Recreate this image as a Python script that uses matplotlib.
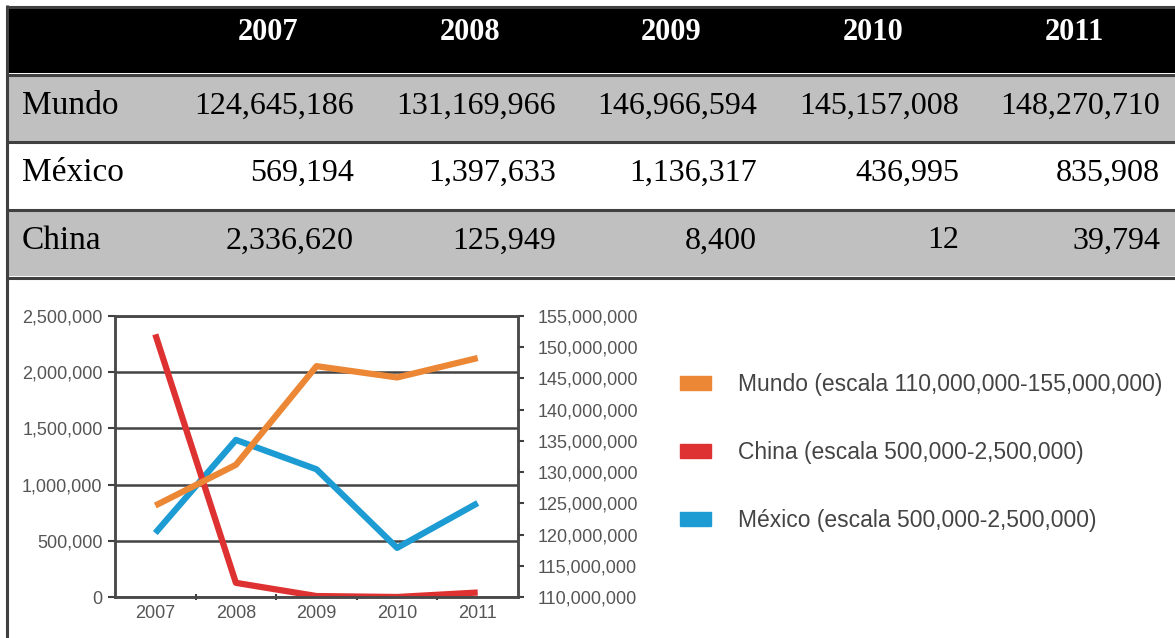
import matplotlib.pyplot as plt
from matplotlib.patches import Rectangle, Patch
from matplotlib.ticker import FuncFormatter, MultipleLocator, FixedLocator

years = ["2007", "2008", "2009", "2010", "2011"]
mundo = [124645186, 131169966, 146966594, 145157008, 148270710]
mexico = [569194, 1397633, 1136317, 436995, 835908]
china = [2336620, 125949, 8400, 12, 39794]

row_names = ["Mundo", "México", "China"]
row_values = [mundo, mexico, china]
row_fills = ["#c0c0c0", "white", "#c0c0c0"]

legend_labels = ["Mundo (escala 110,000,000-155,000,000)",
                 "China (escala 500,000-2,500,000)",
                 "México (escala 500,000-2,500,000)"]
c_mundo, c_china, c_mexico = "#ec8736", "#de3131", "#1d9bd3"

W, H = 1175, 638
fig = plt.figure(figsize=(W / 100, H / 100), dpi=100)

# --- table, drawn in pixel coordinates ---
tab = fig.add_axes([0, 0, 1, 1])
tab.set_xlim(0, W)
tab.set_ylim(H, 0)
tab.axis("off")

col_edges = [8, 168, 369, 571, 772, 974, 1175]
row_h = 65
head_top = 8
row_tops = [76, 143, 211]
line_c = "#404040"
serif = "Liberation Serif"

tab.add_patch(Rectangle((8, head_top), W - 8, row_h, color="black", lw=0))
for top, fill in zip(row_tops, row_fills):
    tab.add_patch(Rectangle((8, top), W - 8, row_h, color=fill, lw=0))

for y in [6.5, 74.5, 142, 210, 277.5]:
    tab.plot([6, W], [y, y], color=line_c, lw=2.2, solid_capstyle="butt")
tab.plot([7, 7], [5, H], color=line_c, lw=2.2, solid_capstyle="butt")

for i, yr in enumerate(years):
    cx = (col_edges[i + 1] + col_edges[i + 2]) / 2
    tab.text(cx, 33, yr, color="white", fontsize=22, fontweight="bold",
             family=serif, ha="center", va="center")

for name, vals, top in zip(row_names, row_values, row_tops):
    cy = top + 30
    tab.text(22, cy, name, fontsize=24, family=serif, ha="left", va="center")
    for i, v in enumerate(vals):
        tab.text(col_edges[i + 2] - 15, cy, f"{v:,}", fontsize=23,
                 family=serif, ha="right", va="center")

# --- chart with two y axes ---
sans = "Liberation Sans"
txt_c = "#555555"
ax_l, ax_r, ax_t, ax_b = 115, 518, 316, 597
ax = fig.add_axes([ax_l / W, (H - ax_b) / H, (ax_r - ax_l) / W, (ax_b - ax_t) / H])
ax2 = ax.twinx()

x = range(len(years))
ax.plot(x, mexico, color=c_mexico, lw=4.5, solid_capstyle="butt")
ax.plot(x, china, color=c_china, lw=4.5, solid_capstyle="butt")
ax2.plot(x, mundo, color=c_mundo, lw=4.5, solid_capstyle="butt")

ax.set_xlim(-0.5, len(years) - 0.5)
ax.set_ylim(0, 2500000)
ax2.set_ylim(110000000, 155000000)

ax.yaxis.set_major_locator(MultipleLocator(500000))
ax2.yaxis.set_major_locator(MultipleLocator(5000000))
fmt = FuncFormatter(lambda v, p: f"{int(v):,}")
ax.yaxis.set_major_formatter(fmt)
ax2.yaxis.set_major_formatter(fmt)

ax.set_xticks(list(x))
ax.set_xticklabels(years)
ax.xaxis.set_minor_locator(FixedLocator([0.5, 1.5, 2.5, 3.5]))
ax.tick_params(axis="x", which="major", length=0, pad=6,
               labelsize=13, labelcolor=txt_c)
ax.tick_params(axis="x", which="minor", length=4, direction="inout",
               color=line_c, width=1.5)
ax.tick_params(axis="y", length=5, width=1.5, color=line_c,
               labelsize=13, labelcolor=txt_c, pad=4)
ax2.tick_params(axis="y", length=4, width=1.5, color=line_c,
                labelsize=13, labelcolor=txt_c, pad=10)
for lab in ax.get_xticklabels() + ax.get_yticklabels() + ax2.get_yticklabels():
    lab.set_family(sans)

ax.yaxis.grid(True, color="#444444", lw=1.8)
ax.set_axisbelow(True)
for a in (ax, ax2):
    for s in a.spines.values():
        s.set_color("#4a4a4a")
        s.set_linewidth(1.8)
ax2.spines["top"].set_visible(True)

handles = [Patch(color=c_mundo), Patch(color=c_china), Patch(color=c_mexico)]
fig.legend(handles, legend_labels, loc="upper left",
           bbox_to_anchor=(680 / W, (H - 373) / H), frameon=False,
           prop={"family": sans, "size": 16.5}, labelcolor="#444444",
           handlelength=1.35, handleheight=0.55, handletextpad=1.2,
           labelspacing=1.97, borderaxespad=0, borderpad=0)

fig.savefig("out.png", dpi=100)
